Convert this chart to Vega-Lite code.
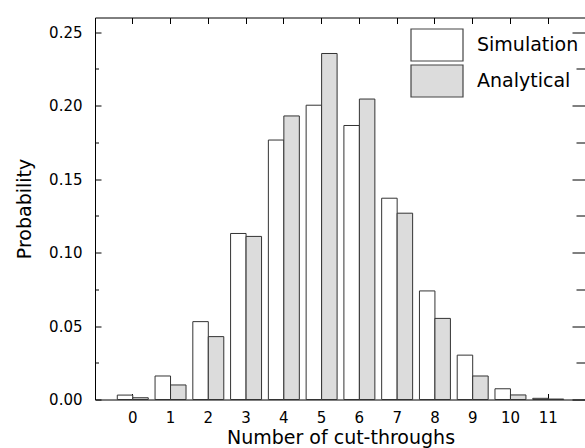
{
  "$schema": "https://vega.github.io/schema/vega-lite/v6.json",
  "width": 491,
  "height": 382,
  "autosize": {"type": "none"},
  "padding": {"left": 95, "top": 17.5, "right": 0, "bottom": 48.5},
  "background": "white",
  "config": {
    "font": "DejaVu Sans",
    "view": {"stroke": "black", "strokeWidth": 1},
    "axis": {
      "domain": false,
      "grid": false,
      "tickColor": "black",
      "tickWidth": 1,
      "labelColor": "black",
      "titleColor": "black",
      "titleFontWeight": "normal",
      "labelFont": "DejaVu Sans",
      "titleFont": "DejaVu Sans"
    }
  },
  "data": {
    "values": [
      {"n": 0, "series": "Simulation", "p": 0.003},
      {"n": 0, "series": "Analytical", "p": 0.0012},
      {"n": 1, "series": "Simulation", "p": 0.016},
      {"n": 1, "series": "Analytical", "p": 0.0099},
      {"n": 2, "series": "Simulation", "p": 0.053},
      {"n": 2, "series": "Analytical", "p": 0.0428},
      {"n": 3, "series": "Simulation", "p": 0.113},
      {"n": 3, "series": "Analytical", "p": 0.111},
      {"n": 4, "series": "Simulation", "p": 0.1766},
      {"n": 4, "series": "Analytical", "p": 0.193},
      {"n": 5, "series": "Simulation", "p": 0.2003},
      {"n": 5, "series": "Analytical", "p": 0.2355},
      {"n": 6, "series": "Simulation", "p": 0.1865},
      {"n": 6, "series": "Analytical", "p": 0.2045},
      {"n": 7, "series": "Simulation", "p": 0.137},
      {"n": 7, "series": "Analytical", "p": 0.1268},
      {"n": 8, "series": "Simulation", "p": 0.0739},
      {"n": 8, "series": "Analytical", "p": 0.0552},
      {"n": 9, "series": "Simulation", "p": 0.0302},
      {"n": 9, "series": "Analytical", "p": 0.016},
      {"n": 10, "series": "Simulation", "p": 0.0073},
      {"n": 10, "series": "Analytical", "p": 0.0031},
      {"n": 11, "series": "Simulation", "p": 0.0008},
      {"n": 11, "series": "Analytical", "p": 0.0003}
    ]
  },
  "layer": [
    {
      "mark": {"type": "bar", "stroke": "#333333", "strokeWidth": 1},
      "encoding": {
        "x": {
          "field": "n",
          "type": "ordinal",
          "scale": {"paddingInner": 0.18, "paddingOuter": 0.59},
          "axis": {
            "orient": "bottom",
            "labelAngle": 0,
            "title": "Number of cut-throughs",
            "tickSize": -6,
            "labelFontSize": 15,
            "titleFontSize": 19,
            "labelPadding": 17,
            "titlePadding": 3
          }
        },
        "xOffset": {"field": "series", "sort": ["Simulation", "Analytical"]},
        "y": {
          "field": "p",
          "type": "quantitative",
          "stack": null,
          "scale": {"domain": [0, 0.25]},
          "axis": {
            "orient": "left",
            "title": "Probability",
            "values": [0, 0.025, 0.05, 0.075, 0.1, 0.125, 0.15, 0.175, 0.2, 0.225, 0.25],
            "labelExpr": "abs(datum.value*20 - round(datum.value*20)) < 0.001 ? format(datum.value, '.2f') : ''",
            "tickSize": {"condition": {"test": "abs(datum.value*20 - round(datum.value*20)) < 0.001", "value": -6}, "value": -3.5},
            "labelFontSize": 15,
            "titleFontSize": 19,
            "labelPadding": 19,
            "titlePadding": 14
          }
        },
        "fill": {
          "field": "series",
          "type": "nominal",
          "sort": ["Simulation", "Analytical"],
          "scale": {"domain": ["Simulation", "Analytical"], "range": ["white", "#dcdcdc"]},
          "legend": {
            "title": null,
            "orient": "none",
            "legendX": 325,
            "legendY": 10.5,
            "padding": 0,
            "symbolType": "M-1.625,-1H1.625V1H-1.625Z",
            "symbolSize": 1024,
            "symbolStrokeColor": "#444444",
            "symbolStrokeWidth": 1.2,
            "symbolOpacity": 1,
            "rowPadding": -4,
            "labelFontSize": 19,
            "labelFont": "DejaVu Sans",
            "labelColor": "black",
            "labelOffset": 23
          }
        }
      }
    },
    {
      "mark": {"type": "bar", "opacity": 0},
      "encoding": {
        "x": {
          "field": "n",
          "type": "ordinal",
          "axis": {"orient": "top", "labels": false, "title": null, "tickSize": -6}
        },
        "y": {
          "field": "p",
          "type": "quantitative",
          "stack": null,
          "axis": {
            "orient": "right",
            "labels": false,
            "title": null,
            "values": [0, 0.025, 0.05, 0.075, 0.1, 0.125, 0.15, 0.175, 0.2, 0.225, 0.25],
            "tickSize": {"condition": {"test": "abs(datum.value*20 - round(datum.value*20)) < 0.001", "value": -14}, "value": -10}
          }
        }
      }
    }
  ],
  "resolve": {"axis": {"x": "independent", "y": "independent"}}
}
